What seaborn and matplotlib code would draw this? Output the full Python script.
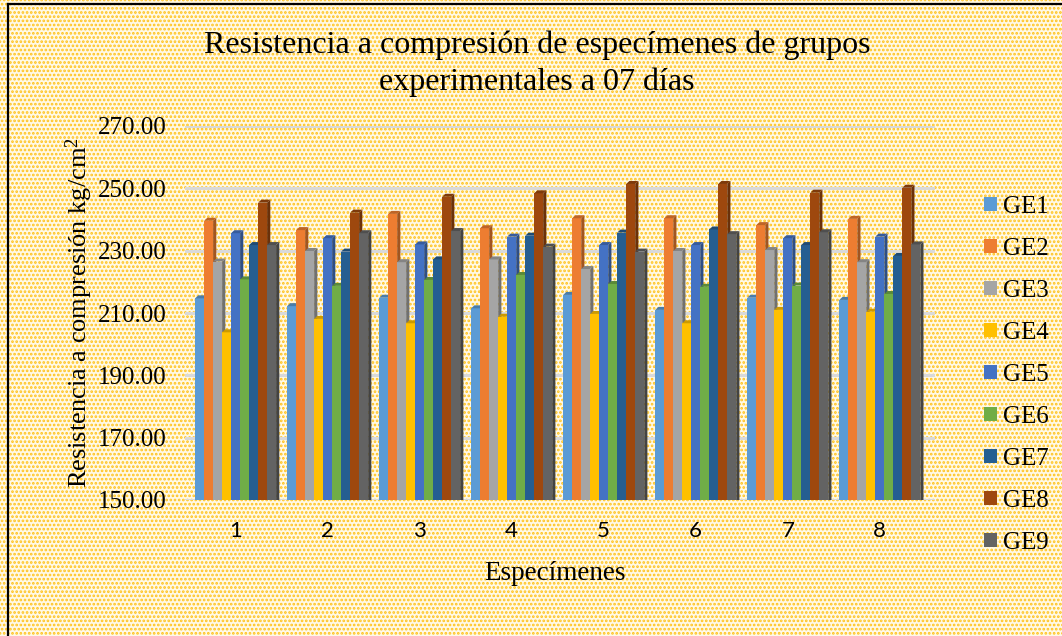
import matplotlib

matplotlib.use("Agg")
import matplotlib.pyplot as plt
import numpy as np
import pandas as pd
import seaborn as sns
from matplotlib.colors import to_rgb
from matplotlib.lines import Line2D
from matplotlib.patches import Polygon, Rectangle

# --- data ---
specimens = ["1", "2", "3", "4", "5", "6", "7", "8"]
groups = ["GE1", "GE2", "GE3", "GE4", "GE5", "GE6", "GE7", "GE8", "GE9"]
ge1 = [214.7, 212.2, 214.9, 211.5, 215.8, 211.0, 214.9, 214.2]
ge2 = [239.6, 236.6, 241.8, 237.2, 240.4, 240.4, 238.2, 240.2]
ge3 = [226.5, 229.9, 226.3, 227.2, 224.1, 229.9, 230.2, 226.3]
ge4 = [203.8, 208.1, 206.7, 208.8, 209.7, 206.7, 211.0, 210.4]
ge5 = [235.6, 234.0, 232.0, 234.5, 231.8, 231.8, 234.0, 234.5]
ge6 = [220.8, 218.7, 220.6, 222.2, 219.3, 218.4, 218.8, 216.1]
ge7 = [231.8, 229.7, 227.2, 234.8, 235.8, 236.8, 231.8, 228.3]
ge8 = [245.4, 242.2, 247.3, 248.4, 251.4, 251.4, 248.6, 250.2]
ge9 = [231.8, 235.6, 236.3, 231.3, 229.7, 235.3, 235.9, 232.0]
y_ticks = [150, 170, 190, 210, 230, 250, 270]

palette = ["#5B9BD5", "#ED7D31", "#A5A5A5", "#FFC000", "#4472C4",
           "#70AD47", "#255E91", "#9E480E", "#636363"]

series = [ge1, ge2, ge3, ge4, ge5, ge6, ge7, ge8, ge9]
df = pd.DataFrame(
    [(s, g, v) for g, vals in zip(groups, series) for s, v in zip(specimens, vals)],
    columns=["specimen", "group", "value"],
)

SERIF = "Liberation Serif"
plt.rcParams["mathtext.fontset"] = "custom"
plt.rcParams["mathtext.rm"] = SERIF
plt.rcParams["mathtext.it"] = SERIF + ":italic"
plt.rcParams["hatch.linewidth"] = 1.3

fig = plt.figure(figsize=(10.62, 6.36), dpi=100, facecolor="white")

# dotted background like the Office pattern fill
fig.patches.append(Rectangle((0, 0), 1, 1, transform=fig.transFigure,
                             facecolor="#FFF9E6", edgecolor="#FFC21A",
                             hatch="....", lw=0, zorder=-10))
fig.add_artist(Line2D([8 / 1062, 8 / 1062], [0, 1 - 4 / 636], color="black", lw=1.6))
fig.add_artist(Line2D([8 / 1062, 1], [1 - 4 / 636, 1 - 4 / 636], color="black", lw=1.6))

ax = fig.add_axes([185 / 1062, 1 - 500 / 636, 750 / 1062, 374 / 636])
ax.set_facecolor("none")

sns.barplot(data=df, x="specimen", y="value", hue="group", palette=palette,
            saturation=1, width=0.88, gap=0, linewidth=0, ax=ax, legend=True)

ax.set_ylim(150, 270)
ax.set_xlim(-0.55, 7.6)
ax.set_yticks(y_ticks)
ax.set_yticklabels([f"{t:.2f}" for t in y_ticks], fontfamily=SERIF, fontsize=18)
ax.tick_params(axis="y", length=0, pad=13)
ax.tick_params(axis="x", length=0, pad=15, labelsize=16)
for lbl in ax.get_xticklabels():
    lbl.set_fontfamily("Lato")
for sp in ax.spines.values():
    sp.set_visible(False)
ax.grid(axis="y", color="#D9D9D9", lw=2.2)
ax.set_axisbelow(True)

# fake 3D depth: right side and top face for every bar
dx = 3.2 / 92
dy = 3.0 / 3.117
for p in list(ax.patches):
    fc = np.array(to_rgb(p.get_facecolor()[:3]))
    i = min(range(len(palette)),
            key=lambda k: np.sum((np.array(to_rgb(palette[k])) - fc) ** 2))
    x0, w, h = p.get_x(), p.get_width(), p.get_height()
    y0 = p.get_y()
    x1, top = x0 + w, y0 + h
    dark = tuple(fc * 0.68)
    mid = tuple(fc * 0.8)
    p.set_zorder(2 + i * 0.1)
    side = Polygon([(x1, y0), (x1 + dx, y0 + dy), (x1 + dx, top + dy), (x1, top)],
                   closed=True, facecolor=dark, lw=0, zorder=2 + i * 0.1 + 0.05)
    cap = Polygon([(x0, top), (x0 + dx, top + dy), (x1 + dx, top + dy), (x1, top)],
                  closed=True, facecolor=mid, lw=0, zorder=2 + i * 0.1 + 0.05)
    ax.add_patch(side)
    ax.add_patch(cap)

ax.set_xlabel("Especímenes", fontfamily=SERIF, fontsize=19.5)
ax.xaxis.set_label_coords(0.493, -0.163)
ax.set_ylabel("Resistencia a compresión kg/cm$^2$", fontfamily=SERIF, fontsize=19)
ax.yaxis.set_label_coords(-0.12, 0.5)

fig.text(537 / 1062, 1 - 45 / 636, "Resistencia a compresión de especímenes de grupos",
         ha="center", va="center", fontfamily=SERIF, fontsize=23)
fig.text(537 / 1062, 1 - 82 / 636, "experimentales a 07 días",
         ha="center", va="center", fontfamily=SERIF, fontsize=23)

handles, labels = ax.get_legend_handles_labels()
ax.get_legend().remove()
fig.legend(handles, labels, loc="upper left", bbox_to_anchor=(974 / 1062, 1 - 186 / 636),
           frameon=False, prop={"family": SERIF, "size": 18}, handlelength=0.5,
           handleheight=0.5, handletextpad=0.25, labelspacing=0.8, borderaxespad=0)

fig.savefig("out.png", dpi=100, facecolor=fig.get_facecolor())
